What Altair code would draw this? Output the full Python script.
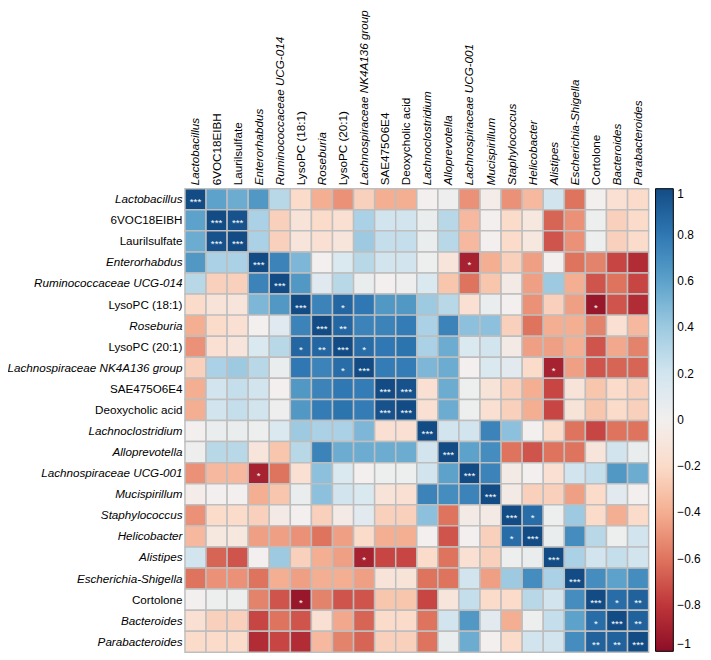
import altair as alt
import pandas as pd

labels = [
    "Lactobacillus", "6VOC18EIBH", "Laurilsulfate", "Enterorhabdus",
    "Ruminococcaceae UCG-014", "LysoPC (18:1)", "Roseburia", "LysoPC (20:1)",
    "Lachnospiraceae NK4A136 group", "SAE475O6E4", "Deoxycholic acid",
    "Lachnoclostridium", "Alloprevotella", "Lachnospiraceae UCG-001",
    "Mucispirillum", "Staphylococcus", "Helicobacter", "Alistipes",
    "Escherichia-Shigella", "Cortolone", "Bacteroides", "Parabacteroides",
]

italic_labels = [
    "Lactobacillus", "Enterorhabdus", "Ruminococcaceae UCG-014", "Roseburia",
    "Lachnospiraceae NK4A136 group", "Lachnoclostridium", "Alloprevotella",
    "Lachnospiraceae UCG-001", "Mucispirillum", "Staphylococcus", "Helicobacter",
    "Alistipes", "Escherichia-Shigella", "Bacteroides", "Parabacteroides",
]

# upper triangle of the correlation matrix: row i holds columns i..21
upper = [
    [1.0, 0.6, 0.55, 0.65, 0.3, -0.2, -0.4, -0.5, -0.25, -0.4, -0.4, 0.0, 0.02, -0.5, -0.03, -0.5, -0.35, 0.2, -0.6, 0.0, -0.15, -0.2],
    [1.0, 0.97, 0.35, -0.25, -0.12, -0.2, -0.15, 0.35, 0.2, 0.2, 0.05, 0.3, -0.35, 0.0, -0.2, -0.08, -0.65, -0.5, 0.03, -0.25, -0.2],
    [1.0, 0.35, -0.25, -0.1, -0.15, -0.1, 0.4, 0.25, 0.25, 0.05, 0.3, -0.35, 0.0, -0.2, -0.08, -0.7, -0.5, 0.03, -0.25, -0.2],
    [1.0, 0.75, 0.5, 0.0, 0.15, 0.3, 0.2, 0.2, 0.03, -0.1, -0.9, -0.4, -0.25, -0.45, 0.0, -0.6, -0.55, -0.75, -0.85],
    [1.0, 0.65, 0.12, 0.3, 0.05, 0.0, 0.02, 0.15, -0.3, -0.6, -0.3, -0.05, -0.45, 0.4, -0.4, -0.7, -0.6, -0.75],
    [1.0, 0.75, 0.88, 0.8, 0.65, 0.65, 0.4, 0.3, -0.15, 0.05, 0.0, -0.5, -0.25, -0.45, -0.95, -0.7, -0.85],
    [1.0, 0.88, 0.75, 0.75, 0.78, 0.35, 0.75, 0.45, 0.45, -0.25, -0.6, -0.4, -0.4, -0.55, -0.15, -0.35],
    [1.0, 0.85, 0.8, 0.82, 0.35, 0.55, 0.15, 0.2, -0.05, -0.45, -0.45, -0.4, -0.7, -0.42, -0.55],
    [1.0, 0.78, 0.78, 0.5, 0.55, 0.0, 0.15, 0.1, -0.2, -0.9, -0.45, -0.7, -0.65, -0.65],
    [1.0, 0.97, -0.15, 0.55, 0.03, -0.12, -0.25, -0.4, -0.75, -0.12, -0.3, -0.2, -0.25],
    [1.0, -0.15, 0.55, 0.03, -0.15, -0.25, -0.4, -0.75, -0.12, -0.3, -0.2, -0.25],
    [1.0, 0.2, 0.2, 0.75, 0.45, 0.0, -0.2, -0.6, -0.75, -0.6, -0.6],
    [1.0, 0.6, 0.7, -0.6, -0.7, -0.6, -0.6, -0.1, 0.2, 0.05],
    [1.0, 0.75, -0.05, 0.0, -0.15, 0.2, 0.25, 0.65, 0.55],
    [1.0, -0.05, -0.25, -0.25, -0.45, -0.2, 0.1, 0.0],
    [1.0, 0.85, 0.03, 0.4, -0.2, -0.4, -0.2],
    [1.0, 0.05, 0.7, 0.3, 0.03, 0.2],
    [1.0, 0.35, 0.2, 0.25, 0.2],
    [1.0, 0.7, 0.6, 0.7],
    [1.0, 0.85, 0.9],
    [1.0, 0.9],
    [1.0],
]

# significance marks (upper triangle, i <= j)
star_i = [0, 1, 1, 2, 3, 3, 4, 5, 5, 5, 6, 6, 7, 7, 8, 8, 9, 9, 10, 11, 12, 13, 14, 15, 15, 16, 17, 18, 19, 19, 19, 20, 20, 21]
star_j = [0, 1, 2, 2, 3, 13, 4, 5, 7, 19, 6, 7, 7, 8, 8, 17, 9, 10, 10, 11, 12, 13, 14, 15, 16, 16, 17, 18, 19, 20, 21, 20, 21, 21]
star_s = ["***", "***", "***", "***", "***", "*", "***", "***", "*", "*", "***", "**", "***", "*", "***", "*", "***", "***", "***", "***", "***", "***", "***", "***", "*", "***", "***", "***", "***", "*", "**", "***", "**", "***"]

stars = {}
for a, b, s in zip(star_i, star_j, star_s):
    stars[(a, b)] = s

records = []
n = len(labels)
for i in range(n):
    for j in range(n):
        a, b = min(i, j), max(i, j)
        records.append({
            "row": labels[i],
            "col": labels[j],
            "r": upper[a][b - a],
            "star": stars.get((a, b), ""),
        })
df = pd.DataFrame(records)

italic_list = "[" + ",".join("'" + s + "'" for s in italic_labels) + "]"
style_cond = {
    "condition": {"test": "indexof(" + italic_list + ", datum.value) >= 0", "value": "italic"},
    "value": "normal",
}

FONT = "Liberation Sans"
FS = 11.8

x_enc = alt.X(
    "col:N", sort=labels, title=None,
    scale=alt.Scale(paddingInner=0, paddingOuter=0),
    axis=alt.Axis(orient="top", labelAngle=-90, labelAlign="left", labelBaseline="middle",
                  ticks=False, domain=False, labelPadding=4, labelFontSize=FS,
                  labelFont=FONT, labelColor="black", labelFontStyle=style_cond,
                  labelLimit=400),
)
y_enc = alt.Y(
    "row:N", sort=labels, title=None,
    scale=alt.Scale(paddingInner=0, paddingOuter=0),
    axis=alt.Axis(orient="left", ticks=False, domain=False, labelPadding=3,
                  labelFontSize=FS, labelFont=FONT, labelColor="black",
                  labelFontStyle=style_cond, labelLimit=400),
)

base = alt.Chart(df).encode(x=x_enc, y=y_enc)

heat = base.mark_rect(stroke="#BEBEBE", strokeWidth=1.5).encode(
    color=alt.Color(
        "r:Q",
        scale=alt.Scale(scheme="redblue", domain=[-1, 1]),
        legend=alt.Legend(
            title=None, orient="right", direction="vertical",
            gradientLength=468, gradientThickness=18,
            gradientStrokeColor="black", gradientStrokeWidth=1,
            values=[-1, -0.8, -0.6, -0.4, -0.2, 0, 0.2, 0.4, 0.6, 0.8, 1],
            format="~g", labelFontSize=12, labelFont=FONT, labelColor="black",
            labelOverlap=False, offset=7, padding=0, labelOffset=4,
        ),
    ),
)

text = base.mark_text(color="white", fontSize=10, dy=3, font=FONT).encode(
    text="star:N",
)

chart = (heat + text).properties(
    width=469, height=469,
    autosize=alt.AutoSizeParams(type="none"),
    padding={"left": 179, "top": 179, "right": 55, "bottom": 4},
).configure_view(stroke=None)

chart.save("out.html", embed_options={"renderer": "svg", "actions": False})
